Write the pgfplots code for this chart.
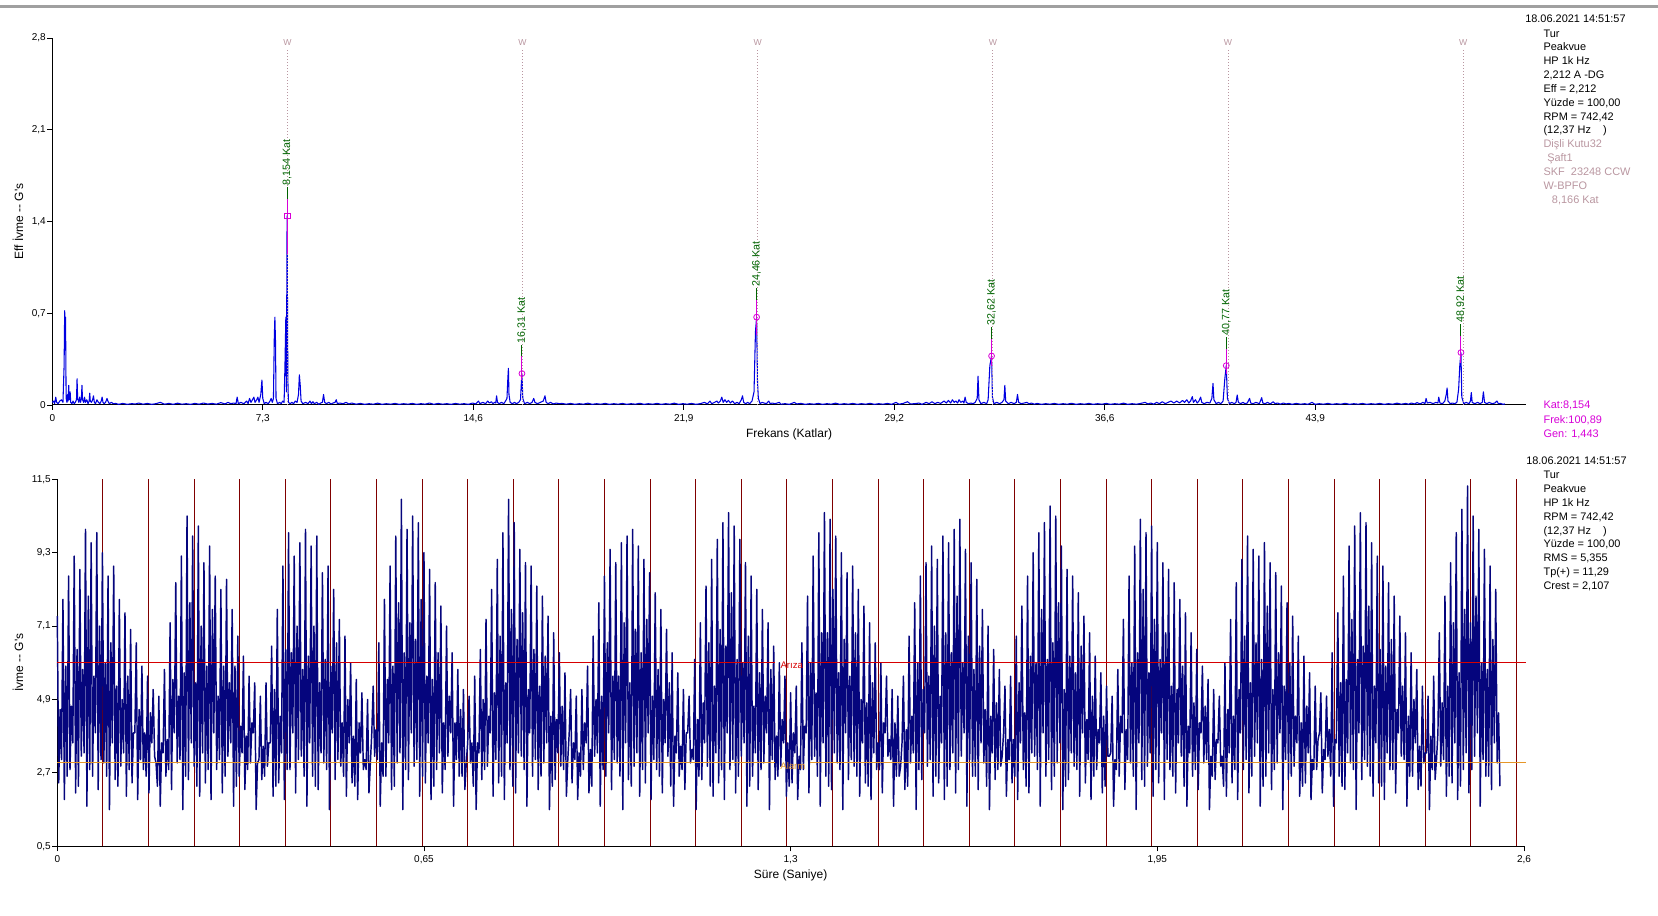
\documentclass[border=0pt]{standalone}
\usepackage{fontspec}
\setmainfont{Liberation Sans}
\usepackage{pgfplots}
\usepackage{pgfplotstable}
\pgfplotsset{compat=1.18}
\definecolor{specblue}{RGB}{0,0,225}
\definecolor{wavenavy}{RGB}{5,5,125}
\definecolor{maroonline}{RGB}{128,0,0}
\definecolor{arizared}{RGB}{215,0,0}
\definecolor{alarmorange}{RGB}{230,150,40}
\definecolor{mag}{RGB}{215,0,215}
\definecolor{dgreen}{RGB}{0,100,0}
\definecolor{pinkgray}{RGB}{185,150,160}
\definecolor{barGray}{RGB}{160,160,160}
\newcommand\infofont{\fontsize{8.2}{10}\selectfont}
\newcommand\labfont{\fontsize{9}{11}\selectfont}

\pgfplotstableread[row sep=\\]{
y\\
7.4\\2.4\\4.6\\3.1\\
7.9\\1.9\\5.9\\2.6\\
8.6\\2.8\\4.7\\3.6\\
9.2\\2.1\\6.4\\2.3\\
8.8\\3.2\\5.8\\3.3\\
10.0\\1.7\\8.0\\2.8\\
9.6\\2.6\\5.6\\3.9\\
9.9\\2.2\\7.1\\3.1\\
9.3\\3.0\\6.0\\2.6\\
8.6\\1.6\\6.6\\3.6\\
8.9\\2.5\\5.3\\2.3\\
7.9\\2.9\\4.9\\3.3\\
7.5\\2.0\\5.6\\2.8\\
7.0\\2.4\\3.9\\3.9\\
6.6\\1.9\\4.6\\3.1\\
5.9\\2.8\\3.9\\2.6\\
5.6\\2.1\\4.5\\3.6\\
5.2\\3.2\\3.0\\2.3\\
5.0\\1.7\\3.6\\3.3\\
5.8\\2.6\\3.7\\2.8\\
7.2\\2.2\\5.5\\3.9\\
8.4\\3.0\\5.0\\3.1\\
9.2\\1.6\\5.7\\2.6\\
10.4\\2.5\\7.8\\3.6\\
9.8\\2.9\\5.4\\2.3\\
10.1\\2.0\\7.1\\3.3\\
9.0\\2.4\\5.9\\2.8\\
9.5\\1.9\\7.6\\3.9\\
8.6\\2.8\\5.0\\3.1\\
8.2\\2.1\\5.9\\2.6\\
8.5\\3.2\\5.4\\3.6\\
7.6\\1.7\\5.9\\2.3\\
6.8\\2.6\\4.1\\3.3\\
6.2\\2.2\\3.8\\2.8\\
5.6\\3.0\\4.2\\3.9\\
5.4\\1.6\\3.0\\3.1\\
5.0\\2.5\\3.5\\2.6\\
5.4\\2.9\\3.6\\3.6\\
6.5\\2.0\\5.2\\2.3\\
7.6\\2.4\\4.4\\3.3\\
8.9\\1.9\\6.4\\2.8\\
9.9\\2.8\\6.3\\3.9\\
9.2\\2.1\\7.1\\3.1\\
9.6\\3.2\\5.8\\2.6\\
10.0\\1.7\\6.2\\3.6\\
9.5\\2.6\\7.1\\2.3\\
9.8\\2.2\\5.4\\3.3\\
8.7\\3.0\\6.1\\2.8\\
8.9\\1.6\\5.9\\3.9\\
8.2\\2.5\\6.6\\3.1\\
7.3\\2.9\\4.2\\2.6\\
6.8\\2.0\\4.9\\3.6\\
6.0\\2.4\\3.8\\2.3\\
5.5\\1.9\\4.2\\3.3\\
5.1\\2.8\\3.1\\2.8\\
4.9\\2.1\\3.0\\3.9\\
5.3\\3.2\\4.0\\3.1\\
6.6\\1.7\\3.6\\2.6\\
7.9\\2.6\\5.5\\3.6\\
8.9\\2.2\\5.9\\2.3\\
9.8\\3.0\\7.8\\3.3\\
10.9\\1.6\\6.3\\2.8\\
10.0\\2.5\\7.2\\3.9\\
10.4\\2.9\\6.7\\3.1\\
10.2\\2.0\\7.9\\2.6\\
9.3\\2.4\\5.6\\3.6\\
8.8\\1.9\\5.5\\2.3\\
8.4\\2.8\\6.3\\3.3\\
7.7\\2.1\\4.2\\2.8\\
7.1\\3.2\\5.0\\3.9\\
6.3\\1.7\\4.2\\3.1\\
5.8\\2.6\\4.6\\2.6\\
5.2\\2.2\\3.0\\3.6\\
5.0\\3.0\\3.6\\2.3\\
5.6\\1.6\\3.6\\3.3\\
6.4\\2.5\\4.9\\2.8\\
7.3\\2.9\\4.4\\3.9\\
8.2\\2.0\\5.1\\3.1\\
9.1\\2.4\\6.8\\2.6\\
9.9\\1.9\\5.4\\3.6\\
10.9\\2.8\\7.6\\2.3\\
10.2\\2.1\\6.7\\3.3\\
9.4\\3.2\\7.5\\2.8\\
9.0\\1.7\\5.2\\3.9\\
8.9\\2.6\\6.4\\3.1\\
8.3\\2.2\\5.3\\2.6\\
8.0\\3.0\\6.2\\3.6\\
7.4\\1.6\\4.4\\2.3\\
6.9\\2.5\\4.3\\3.3\\
6.3\\2.9\\4.7\\2.8\\
5.7\\2.0\\3.1\\3.9\\
5.2\\2.4\\3.6\\3.1\\
5.0\\1.9\\3.3\\2.6\\
5.2\\2.8\\4.2\\3.6\\
5.9\\2.1\\3.4\\2.3\\
6.8\\3.2\\4.9\\3.3\\
7.8\\1.7\\5.0\\2.8\\
8.6\\2.6\\6.6\\3.9\\
9.4\\2.2\\5.6\\3.1\\
9.0\\3.0\\5.6\\2.6\\
9.6\\1.6\\7.2\\3.6\\
9.8\\2.5\\5.4\\2.3\\
10.0\\2.9\\7.0\\3.3\\
9.5\\2.0\\6.3\\2.8\\
9.1\\2.4\\7.3\\3.9\\
8.7\\1.9\\5.0\\3.1\\
8.1\\2.8\\5.8\\2.6\\
7.6\\2.1\\4.9\\3.6\\
7.0\\3.2\\5.4\\2.3\\
6.3\\1.7\\3.8\\3.3\\
5.7\\2.6\\3.5\\2.8\\
5.2\\2.2\\3.9\\3.9\\
5.0\\3.0\\3.4\\3.1\\
6.1\\1.6\\4.3\\2.6\\
7.2\\2.5\\4.8\\3.6\\
8.3\\2.9\\6.6\\2.3\\
9.1\\2.0\\5.3\\3.3\\
9.7\\2.4\\7.0\\2.8\\
10.2\\1.9\\6.5\\3.9\\
10.5\\2.8\\8.1\\3.1\\
10.1\\2.1\\6.1\\2.6\\
9.7\\3.2\\6.0\\3.6\\
9.0\\1.7\\6.8\\2.3\\
8.6\\2.6\\4.7\\3.3\\
8.2\\2.2\\5.7\\2.8\\
7.6\\3.0\\5.0\\3.9\\
7.2\\1.6\\5.8\\3.1\\
6.5\\2.5\\3.8\\2.6\\
6.0\\2.9\\4.3\\3.6\\
5.6\\2.0\\3.6\\2.3\\
5.1\\2.4\\3.9\\3.3\\
5.3\\1.9\\3.2\\2.8\\
6.6\\2.8\\4.1\\3.9\\
8.0\\2.1\\6.0\\3.1\\
9.2\\3.2\\5.1\\2.6\\
9.9\\1.7\\6.9\\3.6\\
10.5\\2.6\\6.9\\2.3\\
10.3\\2.2\\8.2\\3.3\\
9.8\\3.0\\5.7\\2.8\\
9.3\\1.6\\6.7\\3.9\\
8.7\\2.5\\5.6\\3.1\\
8.9\\2.9\\6.9\\2.6\\
8.2\\2.0\\4.9\\3.6\\
7.7\\2.4\\4.8\\2.3\\
7.2\\1.9\\5.4\\3.3\\
6.6\\2.8\\3.6\\2.8\\
6.0\\2.1\\4.2\\3.9\\
5.6\\3.2\\3.7\\3.1\\
5.2\\1.7\\4.2\\2.6\\
5.0\\2.6\\2.9\\3.6\\
5.6\\2.2\\4.0\\2.3\\
6.8\\3.0\\4.4\\3.3\\
7.8\\1.6\\6.0\\2.8\\
8.6\\2.5\\5.2\\3.9\\
9.0\\2.9\\5.6\\3.1\\
9.5\\2.0\\7.1\\2.6\\
9.1\\2.4\\5.0\\3.6\\
9.8\\1.9\\6.9\\2.3\\
9.6\\2.8\\6.3\\3.3\\
10.0\\2.1\\8.0\\2.8\\
10.3\\3.2\\6.0\\3.9\\
9.4\\1.7\\6.8\\3.1\\
9.0\\2.6\\5.8\\2.6\\
8.5\\2.2\\6.5\\3.6\\
7.6\\3.0\\4.6\\2.3\\
7.1\\1.6\\4.4\\3.3\\
6.4\\2.5\\4.8\\2.8\\
5.8\\2.9\\3.2\\3.9\\
5.3\\2.0\\3.7\\3.1\\
5.6\\2.4\\3.7\\2.6\\
6.8\\1.9\\5.4\\3.6\\
7.7\\2.8\\4.5\\2.3\\
8.6\\2.1\\6.2\\3.3\\
9.3\\3.2\\6.0\\2.8\\
9.9\\1.7\\7.6\\3.9\\
10.2\\2.6\\6.1\\3.1\\
10.7\\2.2\\6.6\\2.6\\
10.4\\3.0\\7.8\\3.6\\
9.5\\1.6\\5.2\\2.3\\
8.8\\2.5\\6.2\\3.3\\
8.6\\2.9\\5.7\\2.8\\
8.1\\2.0\\6.5\\3.9\\
7.4\\2.4\\4.3\\3.1\\
6.9\\1.9\\5.0\\2.6\\
6.2\\2.8\\4.0\\3.6\\
5.7\\2.1\\4.4\\2.3\\
5.3\\3.2\\3.2\\3.3\\
5.0\\1.7\\3.1\\2.8\\
5.8\\2.6\\4.4\\3.9\\
7.3\\2.2\\4.0\\3.1\\
8.6\\3.0\\6.0\\2.6\\
9.5\\1.6\\6.3\\3.6\\
10.3\\2.5\\8.2\\2.3\\
9.9\\2.9\\5.7\\3.3\\
10.1\\2.0\\7.3\\2.8\\
9.6\\2.4\\6.1\\3.9\\
9.0\\1.9\\6.9\\3.1\\
8.8\\2.8\\5.3\\2.6\\
8.4\\2.1\\5.2\\3.6\\
7.9\\3.2\\5.9\\2.3\\
7.5\\1.7\\4.1\\3.3\\
6.9\\2.6\\4.8\\2.8\\
6.4\\2.2\\4.2\\3.9\\
5.9\\3.0\\4.7\\3.1\\
5.5\\1.6\\3.2\\2.6\\
5.2\\2.5\\3.7\\3.6\\
5.0\\2.9\\3.2\\2.3\\
6.0\\2.0\\4.6\\3.3\\
7.3\\2.4\\4.4\\2.8\\
8.4\\1.9\\5.2\\3.9\\
9.1\\2.8\\6.8\\3.1\\
9.8\\2.1\\5.4\\2.6\\
9.4\\3.2\\6.6\\3.6\\
9.2\\1.7\\6.1\\2.3\\
9.6\\2.6\\7.7\\3.3\\
9.0\\2.2\\5.2\\2.8\\
8.7\\3.0\\6.3\\3.9\\
8.3\\1.6\\5.3\\3.1\\
7.8\\2.5\\6.0\\2.6\\
7.4\\2.9\\4.4\\3.6\\
6.8\\2.0\\4.2\\2.3\\
6.2\\2.4\\4.7\\3.3\\
5.7\\1.9\\3.1\\2.8\\
5.3\\2.8\\3.7\\3.9\\
5.1\\2.1\\3.4\\3.1\\
5.0\\3.2\\4.0\\2.6\\
6.3\\1.7\\3.7\\3.6\\
7.5\\2.6\\5.4\\2.3\\
8.6\\2.2\\5.5\\3.3\\
9.5\\3.0\\7.3\\2.8\\
10.1\\1.6\\6.1\\3.9\\
10.5\\2.5\\6.5\\3.1\\
10.2\\2.9\\7.7\\2.6\\
9.6\\2.0\\5.3\\3.6\\
9.2\\2.4\\6.4\\2.3\\
8.9\\1.9\\5.9\\3.3\\
8.4\\2.8\\6.7\\2.8\\
8.0\\2.1\\4.6\\3.9\\
7.4\\3.2\\5.3\\3.1\\
6.9\\1.7\\4.4\\2.6\\
6.3\\2.6\\4.9\\3.6\\
5.8\\2.2\\3.5\\2.3\\
5.3\\3.0\\3.3\\3.3\\
5.0\\1.6\\3.8\\2.8\\
5.6\\2.5\\3.1\\3.9\\
6.9\\2.9\\4.8\\3.1\\
8.0\\2.0\\5.3\\2.6\\
9.0\\2.4\\7.2\\3.6\\
9.9\\1.9\\5.7\\2.3\\
10.6\\2.8\\7.6\\3.3\\
11.3\\2.1\\7.2\\2.8\\
10.4\\3.2\\8.0\\3.9\\
10.0\\1.7\\6.0\\3.1\\
9.4\\2.6\\5.8\\2.6\\
8.9\\2.2\\6.7\\3.6\\
8.2\\3.0\\4.5\\2.3\\
}\wavetable

\begin{document}
\begin{tikzpicture}[x=0.75pt,y=0.75pt]
\useasboundingbox (0,0) rectangle (1658,916);
\fill[barGray] (0,908) rectangle (1658,911);

% ---------------- top: spectrum ----------------
\begin{axis}[
  at={(39.225pt,383.25pt)}, anchor=south west,
  scale only axis, width=1105.05pt, height=275.25pt,
  xmin=0, xmax=51.17, ymin=0, ymax=2.8,
  axis lines*=left, axis line style={-, black, line width=0.75pt},
  tick align=outside, major tick length=3.75pt,
  tick style={black, line width=0.6pt},
  xtick={0,7.31,14.62,21.93,29.24,36.55,43.86},
  xticklabels={0,{7,3},{14,6},{21,9},{29,2},{36,6},{43,9}},
  ytick={0,0.7,1.4,2.1,2.8},
  yticklabels={0,{0,7},{1,4},{2,1},{2,8}},
  tick label style={font=\fontsize{7.5}{9}\selectfont},
  yticklabel style={inner sep=1pt},
  clip=false,
]
\addplot[specblue, line width=0.8pt, line join=round] coordinates {
(0,0.02) (0.05,0.03) (0.08,0.01) (0.12,0.06) (0.15,0.02) (0.2,0.01) (0.26,0.03) (0.32,0.04) (0.37,0.02) (0.41,0.3) (0.43,0.72) (0.45,0.5) (0.46,0.67) (0.48,0.05) (0.51,0.02) (0.53,0.08) (0.55,0.03) (0.57,0.15) (0.59,0.04) (0.62,0.1) (0.64,0.02) (0.68,0.01) (0.72,0.03) (0.76,0.01) (0.8,0.02) (0.84,0.04) (0.86,0.2) (0.88,0.05) (0.92,0.02) (0.95,0.06) (0.98,0.02) (1.01,0.05) (1.03,0.15) (1.05,0.04) (1.09,0.02) (1.12,0.06) (1.15,0.02) (1.2,0.04) (1.24,0.01) (1.28,0.03) (1.3,0.09) (1.32,0.03) (1.36,0.02) (1.4,0.04) (1.43,0.07) (1.46,0.02) (1.5,0.01) (1.55,0.04) (1.6,0.02) (1.65,0.01) (1.7,0.03) (1.73,0.06) (1.76,0.02) (1.8,0.01) (1.85,0.02) (1.9,0.05) (1.93,0.03) (1.98,0.01) (2.05,0.02) (2.12,0.01) (2.2,0.012) (2.3,0.005)
(2.45,0.012) (2.6,0.005) (2.75,0.01) (2.9,0.008) (3.0,0.015) (3.15,0.006) (3.3,0.012) (3.45,0.005) (3.6,0.01) (3.75,0.02) (3.9,0.006) (4.05,0.012) (4.2,0.005) (4.35,0.014) (4.5,0.006) (4.65,0.01) (4.8,0.005) (4.95,0.012) (5.1,0.006) (5.25,0.015) (5.4,0.007) (5.55,0.012) (5.7,0.006) (5.85,0.018) (6.0,0.008) (6.1,0.02) (6.2,0.01) (6.3,0.015)
(6.38,0.01) (6.42,0.06) (6.46,0.01) (6.55,0.02) (6.65,0.01) (6.75,0.03) (6.8,0.01) (6.85,0.05) (6.9,0.02) (6.95,0.04) (7.0,0.06) (7.04,0.02) (7.1,0.04) (7.14,0.06) (7.18,0.02) (7.24,0.08) (7.28,0.19) (7.31,0.05) (7.36,0.01) (7.42,0.02) (7.5,0.01) (7.56,0.03) (7.6,0.05) (7.64,0.02) (7.68,0.05) (7.71,0.52) (7.73,0.67) (7.75,0.5) (7.77,0.05) (7.82,0.01) (7.9,0.02) (7.95,0.01) (8.0,0.03) (8.05,0.02) (8.08,0.3) (8.11,0.67) (8.13,0.1) (8.154,1.443) (8.18,0.2) (8.2,0.02) (8.26,0.01) (8.32,0.02) (8.38,0.01) (8.44,0.03) (8.5,0.02) (8.55,0.08) (8.58,0.23) (8.61,0.15) (8.64,0.03) (8.7,0.01) (8.8,0.02) (8.88,0.01) (8.95,0.03) (9.0,0.01) (9.05,0.025) (9.1,0.01) (9.18,0.02) (9.25,0.005) (9.32,0.015) (9.38,0.02) (9.42,0.08) (9.46,0.02) (9.52,0.01) (9.6,0.02) (9.68,0.008) (9.75,0.015) (9.82,0.02) (9.86,0.04) (9.9,0.01) (9.98,0.015) (10.1,0.01) (10.2,0.02) (10.3,0.008) (10.4,0.015)
(10.55,0.006) (10.7,0.012) (10.85,0.005) (11.0,0.01) (11.15,0.006) (11.3,0.014) (11.45,0.005) (11.6,0.01) (11.75,0.006) (11.9,0.012) (12.05,0.005) (12.2,0.01) (12.35,0.006) (12.5,0.012) (12.65,0.005) (12.8,0.01) (12.95,0.006) (13.1,0.015) (13.25,0.005) (13.4,0.012) (13.55,0.006) (13.7,0.01) (13.85,0.005) (14.0,0.012) (14.15,0.006) (14.3,0.01) (14.45,0.005) (14.6,0.015) (14.7,0.008) (14.8,0.03) (14.85,0.01) (14.95,0.02) (15.05,0.01) (15.12,0.03) (15.18,0.015) (15.25,0.025) (15.3,0.01) (15.36,0.02) (15.4,0.015) (15.43,0.07) (15.46,0.02) (15.52,0.01) (15.6,0.02) (15.68,0.01) (15.74,0.03) (15.79,0.05) (15.82,0.2) (15.84,0.28) (15.86,0.08) (15.9,0.02) (15.98,0.01) (16.05,0.02) (16.12,0.01) (16.2,0.02) (16.26,0.04) (16.29,0.17) (16.31,0.24) (16.34,0.05) (16.4,0.01) (16.5,0.02) (16.58,0.01) (16.66,0.02) (16.72,0.05) (16.76,0.02) (16.85,0.01) (16.95,0.02) (17.05,0.03) (17.11,0.07) (17.15,0.02) (17.22,0.01) (17.3,0.02) (17.4,0.008) (17.5,0.015) (17.6,0.01) (17.7,0.012)
(17.85,0.006) (18.0,0.012) (18.15,0.005) (18.3,0.01) (18.45,0.006) (18.6,0.014) (18.75,0.005) (18.9,0.01) (19.05,0.006) (19.2,0.012) (19.35,0.005) (19.5,0.01) (19.65,0.006) (19.8,0.012) (19.95,0.005) (20.1,0.01) (20.25,0.006) (20.4,0.013) (20.55,0.005) (20.7,0.01) (20.85,0.006) (21.0,0.012) (21.15,0.005) (21.3,0.01) (21.45,0.006) (21.6,0.014) (21.75,0.005) (21.9,0.01) (22.05,0.006) (22.2,0.012) (22.35,0.005) (22.5,0.01) (22.65,0.02) (22.75,0.008) (22.84,0.03) (22.9,0.01) (23.0,0.02) (23.08,0.03) (23.13,0.015) (23.2,0.03) (23.25,0.06) (23.3,0.02) (23.36,0.04) (23.42,0.02) (23.48,0.035) (23.55,0.015) (23.62,0.03) (23.7,0.01) (23.78,0.02) (23.85,0.01) (23.93,0.04) (23.97,0.07) (24.01,0.02) (24.08,0.01) (24.15,0.02) (24.22,0.01) (24.3,0.03) (24.37,0.1) (24.42,0.56) (24.46,0.67) (24.49,0.18) (24.52,0.05) (24.58,0.01) (24.65,0.02) (24.72,0.015) (24.8,0.01) (24.88,0.03) (24.93,0.01) (25.0,0.015) (25.1,0.01) (25.25,0.02) (25.3,0.006) (25.45,0.01) (25.6,0.005) (25.77,0.02) (25.85,0.008) (26.0,0.012) (26.15,0.005)
(26.3,0.01) (26.45,0.006) (26.6,0.012) (26.75,0.005) (26.9,0.01) (27.05,0.006) (27.2,0.014) (27.35,0.005) (27.5,0.01) (27.65,0.006) (27.8,0.012) (27.95,0.005) (28.1,0.01) (28.25,0.006) (28.4,0.013) (28.55,0.005) (28.7,0.01) (28.85,0.006) (29.0,0.012) (29.15,0.005) (29.3,0.02) (29.4,0.006) (29.55,0.012) (29.7,0.025) (29.8,0.008) (29.95,0.01) (30.1,0.015) (30.2,0.005) (30.35,0.02) (30.45,0.01) (30.55,0.025) (30.65,0.01) (30.75,0.02) (30.85,0.012) (30.97,0.03) (31.05,0.015) (31.12,0.035) (31.2,0.015) (31.26,0.04) (31.32,0.02) (31.38,0.03) (31.44,0.015) (31.49,0.04) (31.55,0.02) (31.62,0.03) (31.66,0.015) (31.7,0.06) (31.74,0.02) (31.82,0.01) (31.9,0.015) (31.98,0.01) (32.05,0.02) (32.12,0.05) (32.15,0.22) (32.18,0.04) (32.25,0.01) (32.35,0.02) (32.45,0.01) (32.5,0.04) (32.56,0.3) (32.62,0.374) (32.65,0.06) (32.7,0.01) (32.8,0.02) (32.9,0.01) (32.98,0.02) (33.05,0.04) (33.08,0.15) (33.11,0.03) (33.2,0.01) (33.3,0.02) (33.4,0.01) (33.48,0.02) (33.52,0.08) (33.56,0.02) (33.65,0.01) (33.75,0.015) (33.85,0.02) (33.92,0.008) (34.0,0.015) (34.1,0.006) (34.2,0.012) (34.35,0.005) (34.5,0.01)
(34.65,0.006) (34.8,0.012) (34.95,0.005) (35.1,0.01) (35.25,0.006) (35.4,0.013) (35.55,0.005) (35.7,0.01) (35.85,0.006) (36.0,0.012) (36.15,0.005) (36.3,0.01) (36.45,0.006) (36.6,0.012) (36.75,0.005) (36.9,0.01) (37.05,0.006) (37.2,0.014) (37.35,0.005) (37.5,0.01) (37.65,0.006) (37.8,0.012) (37.95,0.02) (38.05,0.008) (38.15,0.015) (38.25,0.006) (38.35,0.02) (38.45,0.01) (38.55,0.025) (38.65,0.01) (38.75,0.02) (38.85,0.03) (38.95,0.015) (39.05,0.03) (39.15,0.015) (39.25,0.035) (39.32,0.02) (39.4,0.04) (39.47,0.015) (39.53,0.03) (39.59,0.064) (39.63,0.02) (39.7,0.04) (39.76,0.015) (39.82,0.03) (39.88,0.06) (39.92,0.02) (40.0,0.01) (40.1,0.02) (40.2,0.015) (40.27,0.05) (40.31,0.165) (40.34,0.04) (40.42,0.01) (40.5,0.02) (40.58,0.01) (40.66,0.03) (40.72,0.2) (40.77,0.3) (40.81,0.05) (40.88,0.01) (40.96,0.02) (41.05,0.01) (41.11,0.02) (41.15,0.076) (41.19,0.02) (41.27,0.01) (41.35,0.02) (41.42,0.01) (41.5,0.015) (41.58,0.05) (41.62,0.015) (41.7,0.01) (41.8,0.02) (41.92,0.01) (42.0,0.056) (42.04,0.015) (42.12,0.01) (42.2,0.02) (42.3,0.008) (42.4,0.025) (42.46,0.01) (42.55,0.015) (42.65,0.006) (42.75,0.015) (42.85,0.008) (42.95,0.012) (43.05,0.005) (43.2,0.012) (43.35,0.006) (43.5,0.01) (43.6,0.005) (43.75,0.02) (43.85,0.005) (44.0,0.01)
(44.15,0.006) (44.3,0.012) (44.45,0.005) (44.6,0.01) (44.75,0.006) (44.9,0.013) (45.05,0.005) (45.2,0.01) (45.35,0.006) (45.5,0.012) (45.65,0.005) (45.8,0.01) (45.95,0.006) (46.1,0.012) (46.25,0.005) (46.4,0.01) (46.55,0.006) (46.7,0.014) (46.85,0.006) (47.0,0.012) (47.1,0.006) (47.2,0.015) (47.3,0.008) (47.4,0.018) (47.5,0.008) (47.6,0.02) (47.67,0.01) (47.71,0.05) (47.75,0.015) (47.85,0.02) (47.95,0.01) (48.05,0.02) (48.12,0.015) (48.15,0.06) (48.19,0.015) (48.28,0.01) (48.36,0.03) (48.41,0.08) (48.44,0.13) (48.47,0.03) (48.55,0.01) (48.62,0.015) (48.7,0.01) (48.78,0.02) (48.84,0.12) (48.88,0.3) (48.92,0.40) (48.95,0.06) (49.02,0.01) (49.1,0.02) (49.2,0.01) (49.25,0.03) (49.28,0.095) (49.31,0.02) (49.4,0.01) (49.5,0.02) (49.58,0.01) (49.66,0.02) (49.7,0.1) (49.74,0.02) (49.82,0.01) (49.9,0.02) (50.0,0.01) (50.1,0.015) (50.17,0.03) (50.22,0.01) (50.3,0.012) (50.38,0.005) (50.45,0.008)
};
% W-BPFO guide lines
\pgfplotsinvokeforeach{8.166,16.332,24.498,32.664,40.83,48.996}{
  \draw[pinkgray, line width=0.6pt, dash pattern=on 0.75pt off 1.5pt] (axis cs:#1,0) -- (axis cs:#1,2.716);
  \node[text=pinkgray, font=\fontsize{6.5}{7}\selectfont, inner sep=0pt] at (axis cs:#1,2.762) {W};
}
% peak annotations
\draw[mag, line width=0.75pt] (axis cs:8.154,1.154) -- (axis cs:8.154,1.573);
\draw[dgreen, line width=0.75pt] (axis cs:8.154,1.573) -- (axis cs:8.154,1.663);
\draw[mag, line width=0.75pt] (axis cs:16.31,0.192) -- (axis cs:16.31,0.37);
\draw[dgreen, line width=0.75pt] (axis cs:16.31,0.37) -- (axis cs:16.31,0.46);
\draw[mag, line width=0.75pt] (axis cs:24.46,0.536) -- (axis cs:24.46,0.80);
\draw[dgreen, line width=0.75pt] (axis cs:24.46,0.80) -- (axis cs:24.46,0.89);
\draw[mag, line width=0.75pt] (axis cs:32.62,0.299) -- (axis cs:32.62,0.504);
\draw[dgreen, line width=0.75pt] (axis cs:32.62,0.504) -- (axis cs:32.62,0.594);
\draw[mag, line width=0.75pt] (axis cs:40.77,0.24) -- (axis cs:40.77,0.43);
\draw[dgreen, line width=0.75pt] (axis cs:40.77,0.43) -- (axis cs:40.77,0.52);
\draw[mag, line width=0.75pt] (axis cs:48.92,0.32) -- (axis cs:48.92,0.53);
\draw[dgreen, line width=0.75pt] (axis cs:48.92,0.53) -- (axis cs:48.92,0.62);
\addplot[only marks, mark=square, mark size=2.2pt, mag, line width=0.6pt] coordinates {(8.154,1.443)};
\addplot[only marks, mark=o, mark size=2.2pt, mag, line width=0.6pt] coordinates {(16.31,0.24) (24.46,0.67) (32.62,0.374) (40.77,0.30) (48.92,0.40)};
\begin{scope}[every node/.style={rotate=90, anchor=west, inner sep=0pt, text=dgreen, font=\fontsize{8}{9}\selectfont}]
\node at (axis cs:8.154,1.673) {8,154 Kat};
\node at (axis cs:16.31,0.47) {16,31 Kat};
\node at (axis cs:24.46,0.90) {24,46 Kat};
\node at (axis cs:32.62,0.604) {32,62 Kat};
\node at (axis cs:40.77,0.53) {40,77 Kat};
\node at (axis cs:48.92,0.63) {48,92 Kat};
\end{scope}
\end{axis}

% ---------------- bottom: time waveform ----------------
\begin{axis}[
  at={(42.975pt,52.275pt)}, anchor=south west,
  scale only axis, width=1100pt, height=275.25pt,
  xmin=0, xmax=2.6, ymin=0.5, ymax=11.5,
  axis lines*=left, axis line style={-, black, line width=0.75pt},
  tick align=outside, major tick length=3.75pt,
  tick style={black, line width=0.6pt},
  xtick={0,0.65,1.3,1.95,2.6},
  xticklabels={0,{0,65},{1,3},{1,95},{2,6}},
  ytick={0.5,2.7,4.9,7.1,9.3,11.5},
  yticklabels={{0,5},{2,7},{4,9},{7,1},{9,3},{11,5}},
  tick label style={font=\fontsize{7.5}{9}\selectfont},
  yticklabel style={inner sep=1pt},
  clip=false,
]
\pgfplotsinvokeforeach{0.0808,0.1617,0.2425,0.3234,0.4042,0.4850,0.5659,0.6467,0.7276,0.8084,0.8892,0.9701,1.0509,1.1318,1.2126,1.2934,1.3743,1.4551,1.5360,1.6168,1.6976,1.7785,1.8593,1.9402,2.0210,2.1018,2.1827,2.2635,2.3444,2.4252,2.5060,2.5869}{
  \draw[maroonline, line width=0.75pt] (axis cs:#1,0.5) -- (axis cs:#1,11.5);
}
\addplot[wavenavy, line width=1.1pt, line join=round] table[x expr=\coordindex*0.0025, y=y] {\wavetable};
\draw[arizared, line width=0.75pt] (axis cs:0,6.0) -- (axis cs:1.273,6.0);
\draw[arizared, line width=0.75pt] (axis cs:1.331,6.0) -- (axis cs:2.6035,6.0);
\draw[alarmorange, line width=0.75pt] (axis cs:0,3.0) -- (axis cs:1.273,3.0);
\draw[alarmorange, line width=0.75pt] (axis cs:1.335,3.0) -- (axis cs:2.6035,3.0);
\node[text=arizared, font=\fontsize{7.2}{8}\selectfont, inner sep=0pt] at (axis cs:1.302,5.92) {Arıza};
\node[text=alarmorange, font=\fontsize{7.2}{8}\selectfont, inner sep=0pt] at (axis cs:1.304,2.91) {Alarm};
\end{axis}

% ---------------- axis titles ----------------
\node[rotate=90, font=\labfont, inner sep=0pt] at (18,694.5) {Eff İvme -{}- G\textquotesingle s};
\node[rotate=90, font=\labfont, inner sep=0pt] at (18,253.3) {İvme -{}- G\textquotesingle s};
\node[font=\labfont, inner sep=0pt] at (789,482) {Frekans (Katlar)};
\node[font=\labfont, inner sep=0pt] at (790.6,40.7) {Süre (Saniye)};

% ---------------- info texts ----------------
\begin{scope}[every node/.style={anchor=base west, inner sep=0pt, font=\infofont}]
\node at (1525,893.1) {18.06.2021 14:51:57};
\node at (1543.3,878.8) {Tur};
\node at (1543.3,865.0) {Peakvue};
\node at (1543.3,851.1) {HP 1k Hz};
\node at (1543.3,837.3) {2,212 A -DG};
\node at (1543.3,823.5) {Eff = 2,212};
\node at (1543.3,809.6) {Yüzde = 100,00};
\node at (1543.3,795.8) {RPM = 742,42};
\node at (1543.3,782.0) {(12,37 Hz\ \ \ \ )};
\node[text=pinkgray] at (1543.3,768.2) {Dişli Kutu32};
\node[text=pinkgray] at (1547,754.3) {Şaft1};
\node[text=pinkgray] at (1543.3,740.5) {SKF\ \ 23248 CCW};
\node[text=pinkgray] at (1543.3,726.7) {W-BPFO};
\node[text=pinkgray] at (1551.7,712.8) {8,166 Kat};
\node[text=mag] at (1543.3,507.1) {Kat:8,154};
\node[text=mag] at (1543.3,492.8) {Frek:100,89};
\node[text=mag] at (1543.3,478.8) {Gen: 1,443};
\node at (1526,451.4) {18.06.2021 14:51:57};
\node at (1543.3,437.1) {Tur};
\node at (1543.3,423.3) {Peakvue};
\node at (1543.3,409.5) {HP 1k Hz};
\node at (1543.3,395.7) {RPM = 742,42};
\node at (1543.3,381.9) {(12,37 Hz\ \ \ \ )};
\node at (1543.3,368.1) {Yüzde = 100,00};
\node at (1543.3,354.3) {RMS = 5,355};
\node at (1543.3,340.5) {Tp(+) = 11,29};
\node at (1543.3,326.7) {Crest = 2,107};
\end{scope}
\end{tikzpicture}
\end{document}
